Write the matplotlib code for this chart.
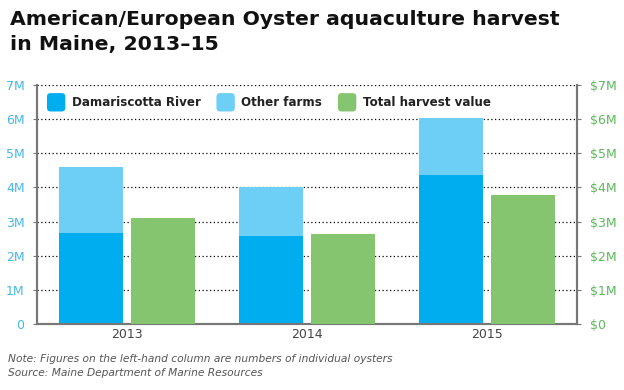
import numpy as np
import matplotlib.pyplot as plt
from matplotlib.patches import FancyBboxPatch, Patch
from matplotlib.legend_handler import HandlerPatch

# ================================================================================
# data (millions)
years = ["2013", "2014", "2015"]
damariscotta = [2.67, 2.58, 4.35]
other_farms = [1.93, 1.42, 1.67]
harvest_value = [3.10, 2.65, 3.78]

left_ticks = ["0", "1M", "2M", "3M", "4M", "5M", "6M", "7M"]
right_ticks = ["$0", "$1M", "$2M", "$3M", "$4M", "$5M", "$6M", "$7M"]
series_names = ["Damariscotta River", "Other farms", "Total harvest value"]

c_dark = "#00aeef"
c_light = "#6dcff6"
c_green = "#86c56f"
c_left_lbl = "#45b8e6"
c_right_lbl = "#5cb85c"
c_axis = "#777777"

plt.rcParams['font.family'] = ['DejaVu Sans']

# ================================================================================
fig = plt.figure(figsize=(6.24, 3.9), dpi=100)
ax = fig.add_axes([0.0593, 0.1692, 0.8654, 0.6128])
ax2 = ax.twinx()

x = np.arange(len(years))
w = 0.36
ax.bar(x - 0.2, damariscotta, w, color=c_dark, zorder=3)
ax.bar(x - 0.2, other_farms, w, bottom=damariscotta, color=c_light, zorder=3)
ax2.bar(x + 0.2, harvest_value, w, color=c_green, zorder=3)

for a in (ax, ax2):
  a.set_ylim(0, 7)
  a.set_xlim(-0.5, 2.5)
  for s in a.spines.values():
    s.set_color(c_axis)
    s.set_linewidth(1.5)
  a.spines['top'].set_visible(False)

ax.set_yticks(range(8))
ax.set_yticklabels(left_ticks)
ax2.set_yticks(range(8))
ax2.set_yticklabels(right_ticks)
ax.tick_params(axis='y', colors=c_axis, labelcolor=c_left_lbl, labelsize=9, length=3, pad=6)
ax2.tick_params(axis='y', colors=c_axis, labelcolor=c_right_lbl, labelsize=9, length=3, pad=6)
ax.set_xticks(x)
ax.set_xticklabels(years)
ax.tick_params(axis='x', length=0, labelsize=9, labelcolor="#444444", pad=3)

# dotted grid
for v in range(1, 8):
  ax.axhline(v, color="black", linestyle=(0, (1, 2)), linewidth=0.9, zorder=1)

# ================================================================================
class RoundHandler(HandlerPatch):
  def create_artists(self, legend, orig_handle, xdescent, ydescent, width, height, fontsize, trans):
    s = height * 2.2
    p = FancyBboxPatch((xdescent + (width - s) / 2, ydescent + (height - s) / 2), s, s,
                       boxstyle="round,pad=0,rounding_size=%f" % (s * 0.2),
                       facecolor=orig_handle.get_facecolor(), edgecolor="none", transform=trans)
    return [p]

handles = [Patch(facecolor=c) for c in (c_dark, c_light, c_green)]
leg = ax2.legend(handles, series_names, loc="upper left", bbox_to_anchor=(-0.011, 1.017), ncol=3,
                 frameon=False, handler_map={Patch: RoundHandler()},
                 prop={'weight': 'bold', 'size': 8.6}, handlelength=1.6, handletextpad=0.5,
                 columnspacing=1.3, borderaxespad=0.9)
for t in leg.get_texts():
  t.set_color("#222222")

# ================================================================================
fig.text(0.016, 0.975, "American/European Oyster aquaculture harvest\nin Maine, 2013\u201315",
         fontsize=14.7, fontweight="bold", va="top", ha="left",
         linespacing=1.4, color="#111111")
fig.text(0.013, 0.062, "Note: Figures on the left-hand column are numbers of individual oysters\nSource: Maine Department of Marine Resources",
         fontsize=7.7, style="italic", color="#555555", va="center", ha="left", linespacing=1.45)

fig.savefig("out.png", dpi=100)
